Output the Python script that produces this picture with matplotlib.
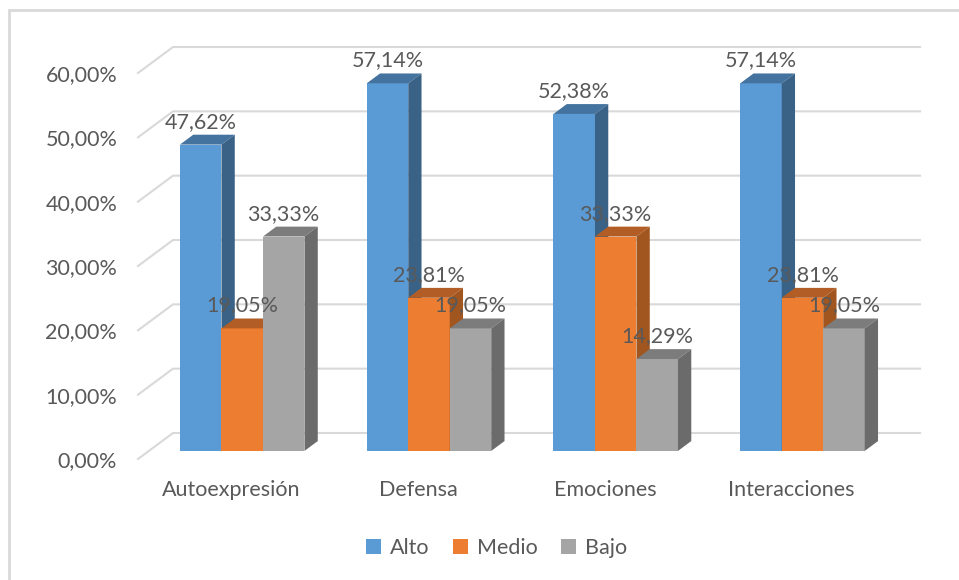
import matplotlib.pyplot as plt
from matplotlib.patches import Polygon, Rectangle

categories = ["Autoexpresión", "Defensa", "Emociones", "Interacciones"]
series = ["Alto", "Medio", "Bajo"]
alto = [47.62, 57.14, 52.38, 57.14]
medio = [19.05, 23.81, 33.33, 23.81]
bajo = [33.33, 19.05, 14.29, 19.05]
y_ticks = [0, 10, 20, 30, 40, 50, 60]

front = ["#5B9BD5", "#ED7D31", "#A5A5A5"]
top = ["#44739F", "#B25D25", "#7C7C7C"]
side = ["#3A6286", "#A2561F", "#6B6B6B"]
text_color = "#595959"
fs = 15.5

plt.rcParams["font.family"] = ["Lato", "DejaVu Sans"]

W, H = 959, 580
fig = plt.figure(figsize=(W / 100, H / 100), dpi=100)

# axes box in pixels: front floor edge at y=459, back wall top at y=47
left, right, y0, ytop = 138, 920, 459, 47
ax = fig.add_axes([left / W, (H - y0) / H, (right - left) / W, (y0 - ytop) / H])

DX = 35 / 186.75   # depth shift of the back wall, category units
DY = 26 / 6.433    # depth shift of the back wall, percent units
ax.set_xlim(-0.5, 3.5 + DX)
ax.set_ylim(0, 60 + DY)
for s in ax.spines.values():
    s.set_visible(False)

# side wall stubs + back wall gridlines
for v in y_ticks:
    ax.plot([-0.5, -0.5 + DX, 3.5 + DX], [v, v + DY, v + DY],
            color="#D9D9D9", lw=1.5, zorder=1, clip_on=False)

# 3D columns
width = 2 / 9
f0, f1 = 0.31, 0.69
ox, oy = f0 * DX, f0 * DY
dx, dy = (f1 - f0) * DX, (f1 - f0) * DY
values = [alto, medio, bajo]
for i in range(len(categories)):
    for j, vals in enumerate(values):
        v = vals[i]
        xl = i - 1.5 * width + j * width + ox
        xr = xl + width
        z = 3 + j
        ax.bar(xl, v, width, bottom=oy, align="edge", color=front[j], zorder=z)
        ax.add_patch(Polygon([(xl, v + oy), (xl + dx, v + oy + dy), (xr + dx, v + oy + dy), (xr, v + oy)],
                             closed=True, facecolor=top[j], edgecolor="none", zorder=z))
        ax.add_patch(Polygon([(xr, oy), (xr + dx, oy + dy), (xr + dx, v + oy + dy), (xr, v + oy)],
                             closed=True, facecolor=side[j], edgecolor="none", zorder=z))
        ax.annotate(f"{v:.2f}%".replace(".", ","), (xl + width / 2, v + oy + dy),
                    xytext=(0, 5), textcoords="offset points", ha="center", va="baseline",
                    fontsize=fs, color=text_color, zorder=10, annotation_clip=False)

ax.set_yticks(y_ticks)
ax.set_yticklabels([f"{v:.2f}%".replace(".", ",") for v in y_ticks])
ax.set_xticks(range(len(categories)))
ax.set_xticklabels(categories)
ax.tick_params(axis="y", length=0, pad=15, labelsize=fs, labelcolor=text_color)
ax.tick_params(axis="x", length=0, pad=15, labelsize=fs, labelcolor=text_color)

handles = [Rectangle((0, 0), 1, 1, facecolor=c, edgecolor="none") for c in front]
fig.legend(handles, series, loc="center", bbox_to_anchor=(0.518, 1 - 548 / H), ncol=3,
           frameon=False, fontsize=fs, labelcolor=text_color, handlelength=0.7, handleheight=0.7,
           handletextpad=0.4, columnspacing=1.1)

# chart area border
fig.add_artist(Rectangle((9 / W, -0.05), 1.05, 1 - 10 / H + 0.05, transform=fig.transFigure,
                         fill=False, edgecolor="#D9D9D9", lw=2))

fig.savefig("out.png", dpi=100)
